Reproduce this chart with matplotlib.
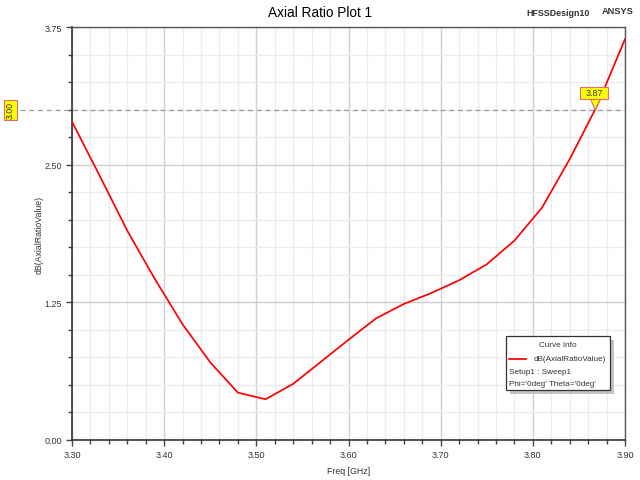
import numpy as np
import matplotlib
matplotlib.use("Agg")
import matplotlib.pyplot as plt
from matplotlib.patches import Rectangle, Polygon
from matplotlib.lines import Line2D
from matplotlib.ticker import MultipleLocator, FixedLocator
from matplotlib.transforms import Affine2D

plt.rcParams['font.family'] = ['Liberation Sans', 'DejaVu Sans']

# Data
freq_ghz = [3.30, 3.33, 3.36, 3.39, 3.42, 3.45, 3.48, 3.51, 3.54, 3.57, 3.60,
            3.63, 3.66, 3.69, 3.72, 3.75, 3.78, 3.81, 3.84, 3.87, 3.90]
axial_ratio_db = [2.89, 2.40, 1.90, 1.46, 1.05, 0.705, 0.43, 0.37, 0.51, 0.71, 0.91,
                  1.105, 1.235, 1.335, 1.45, 1.595, 1.81, 2.11, 2.55, 3.04, 3.64]
x_ticks = [3.30, 3.40, 3.50, 3.60, 3.70, 3.80, 3.90]
y_ticks = [0.00, 1.25, 2.50, 3.75]
marker_level = 3.00

W, H = 640, 481
fig = plt.figure(figsize=(W / 100, H / 100), dpi=100)
L, R, T, B = 72, 625, 28, 441
ax = fig.add_axes([L / W, 1 - B / H, (R - L) / W, (B - T) / H])

def axfrac(px, py):
    return ((px - L) / (R - L), (B - py) / (B - T))

ax.plot(freq_ghz, axial_ratio_db, color='#ff0000', lw=1.25, zorder=5)
ax.set_xlim(3.30, 3.90)
ax.set_ylim(0, 3.75)
ax.xaxis.set_major_locator(FixedLocator(x_ticks))
ax.yaxis.set_major_locator(FixedLocator(y_ticks))
ax.xaxis.set_minor_locator(MultipleLocator(0.02))
ax.yaxis.set_minor_locator(MultipleLocator(0.25))
ax.set_xticklabels([f"{t:.2f}" for t in x_ticks])
ax.set_yticklabels([f"{t:.2f}" for t in y_ticks])
ax.grid(which='major', color='#d0d0d0', lw=1.0)
ax.grid(which='minor', color='#ececec', lw=1.0)
ax.set_axisbelow(True)
ax.tick_params(which='major', direction='out', length=4.3, width=1, color='#444444',
               labelsize=6.5, labelcolor='#333333', pad=2.8)
ax.tick_params(which='minor', direction='out', length=2.9, width=1, color='#444444')
for s in ['left', 'bottom']:
    ax.spines[s].set_color('#333333')
    ax.spines[s].set_linewidth(1.2)
for s in ['top', 'right']:
    ax.spines[s].set_color('#555555')
    ax.spines[s].set_linewidth(1.0)

ax.set_xlabel('Freq [GHz]', fontsize=6.3, color='#333333', labelpad=5)
ax.set_ylabel('dB(AxialRatioValue)', fontsize=6.3, color='#333333', labelpad=1)

fig.text(320 / W, 1 - 13 / H, 'Axial Ratio Plot 1', ha='center', va='center', fontsize=9.8)
fig.text(558 / W, 1 - 13 / H, 'HFSSDesign10', ha='center', va='center', fontsize=6.4,
         fontweight='bold', color='#333333')
fig.text(618 / W, 1 - 12 / H, 'ANSYS', ha='center', va='center', fontsize=6.7,
         fontweight='bold', color='#333333')

# dashed marker line at 3.00 dB
ax.plot([axfrac(20, 0)[0], 1], [marker_level, marker_level], ls=(0, (4, 3)),
        color='#999999', lw=0.9, transform=ax.get_yaxis_transform(), clip_on=False, zorder=4)

# Y marker box (pixel offsets relative to left edge of figure at marker level)
py = ax.transData.transform((3.30, marker_level))[1]
ytr = Affine2D().translate(0, py)
fig.add_artist(Rectangle((4, -10), 13, 20, transform=ytr, fc='#ffff00', ec='#e07070',
                         lw=0.8, zorder=10))
fig.text(10.5, 0, f"{marker_level:.2f}", transform=ytr, rotation=90, ha='center',
         va='center', fontsize=6.3, color='#333333', zorder=11)

# crossing marker
last_f = freq_ghz[-3:]
last_v = axial_ratio_db[-3:]
fx = float(np.interp(marker_level, last_v, last_f))
p = ax.transData.transform((fx, marker_level))
tr = Affine2D().translate(p[0], p[1])
fig.add_artist(Polygon([(-5, 11.5), (6, 11.5), (0, 0)], closed=True, transform=tr,
                       fc='#ffff00', ec='#e07070', lw=0.8, zorder=10))
fig.add_artist(Rectangle((-15, 11), 28, 12, transform=tr, fc='#ffff00', ec='#e07070',
                         lw=0.8, zorder=11))
fig.text(-1, 17, f"{fx:.2f}", transform=tr, ha='center', va='center', fontsize=6.5,
         color='#333333', zorder=12)

# Curve info box
x0, y0 = axfrac(506, 391)
x1, y1 = axfrac(610, 337)
ax.add_patch(Rectangle((x0 + 4 / (R - L), y0 - 4 / (B - T)), x1 - x0, y1 - y0,
                       transform=ax.transAxes, fc='#c4c4c4', ec='none', zorder=20))
ax.add_patch(Rectangle((x0, y0), x1 - x0, y1 - y0, transform=ax.transAxes,
                       fc='white', ec='#333333', lw=0.9, zorder=21))
tx, ty = axfrac(558, 346)
ax.text(tx, ty, 'Curve Info', transform=ax.transAxes, ha='center', va='center',
        fontsize=5.9, color='#333333', zorder=22)
lx0, ly = axfrac(509, 360)
lx1, _ = axfrac(526, 360)
ax.add_line(Line2D([lx0, lx1], [ly, ly], transform=ax.transAxes, color='#ff0000', lw=1.25, zorder=22))
tx, ty = axfrac(534, 360)
ax.text(tx, ty, 'dB(AxialRatioValue)', transform=ax.transAxes, ha='left', va='center',
        fontsize=5.9, color='#333333', zorder=22)
tx, ty = axfrac(509, 372.5)
ax.text(tx, ty, 'Setup1 : Sweep1', transform=ax.transAxes, ha='left', va='center',
        fontsize=5.9, color='#333333', zorder=22)
tx, ty = axfrac(509, 384.5)
ax.text(tx, ty, "Phi='0deg' Theta='0deg'", transform=ax.transAxes, ha='left', va='center',
        fontsize=5.9, color='#333333', zorder=22)

fig.savefig('out.png', dpi=100)
